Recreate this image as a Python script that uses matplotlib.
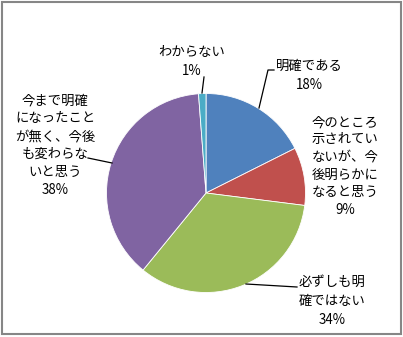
import matplotlib
matplotlib.use("Agg")
import matplotlib.pyplot as plt
from matplotlib.patches import Rectangle

plt.rcParams['font.family'] = ['Noto Sans CJK JP', 'DejaVu Sans']

# Data
categories = ["明確である",
              "今のところ示されていないが、今後明らかになると思う",
              "必ずしも明確ではない",
              "今まで明確になったことが無く、今後も変わらないと思う",
              "わからない"]
values = [17.6, 9.4, 33.9, 37.9, 1.2]
label_lines = [["明確である"],
               ["今のところ", "示されてい", "ないが、今", "後明らかに", "なると思う"],
               ["必ずしも明", "確ではない"],
               ["今まで明確", "になったこと", "が無く、今後", "も変わらな", "いと思う"],
               ["わからない"]]
colors = ["#4F81BD", "#C0504D", "#9BBB59", "#8064A2", "#4BACC6"]

W, H = 403, 337
fig = plt.figure(figsize=(W / 100, H / 100), dpi=100)
ax = fig.add_axes([0, 0, 1, 1])
ax.set_xlim(0, W)
ax.set_ylim(H, 0)
ax.set_aspect('equal')
ax.axis('off')

cx, cy, r = 206, 193, 99.5
ax.pie(values, colors=colors, center=(cx, cy), radius=r, startangle=-90,
       counterclock=True, wedgeprops=dict(edgecolor='white', linewidth=0.6),
       frame=True)
ax.set_xlim(0, W)
ax.set_ylim(H, 0)
ax.axis('off')

# label layout (x center, first line y, line step)
label_pos = [(309, 66, 19), (345, 122, 17.5), (332, 282, 19), (55, 100, 18), (192, 52, 19)]
fs = 9.6
for lines, v, (x, y0, step) in zip(label_lines, values, label_pos):
    allines = lines + [f"{round(v):d}%"]
    for i, t in enumerate(allines):
        ax.text(x, y0 + i * step, t, ha='center', va='center', fontsize=fs, color='black')

# leader lines
leaders = [
    [(259, 108), (268, 70), (274, 70)],
    [(246, 284), (297, 287)],
    [(112, 163), (88, 158)],
    [(202, 93), (204, 77)],
]
for pts in leaders:
    xs, ys = zip(*pts)
    ax.plot(xs, ys, color='black', lw=0.9)

# outer border
fig.patches.append(Rectangle((1.5 / W, 3 / H), 399.5 / W, 332 / H, transform=fig.transFigure,
                             fill=False, edgecolor='#868686', lw=1.5))

fig.savefig("out.png", dpi=100)
